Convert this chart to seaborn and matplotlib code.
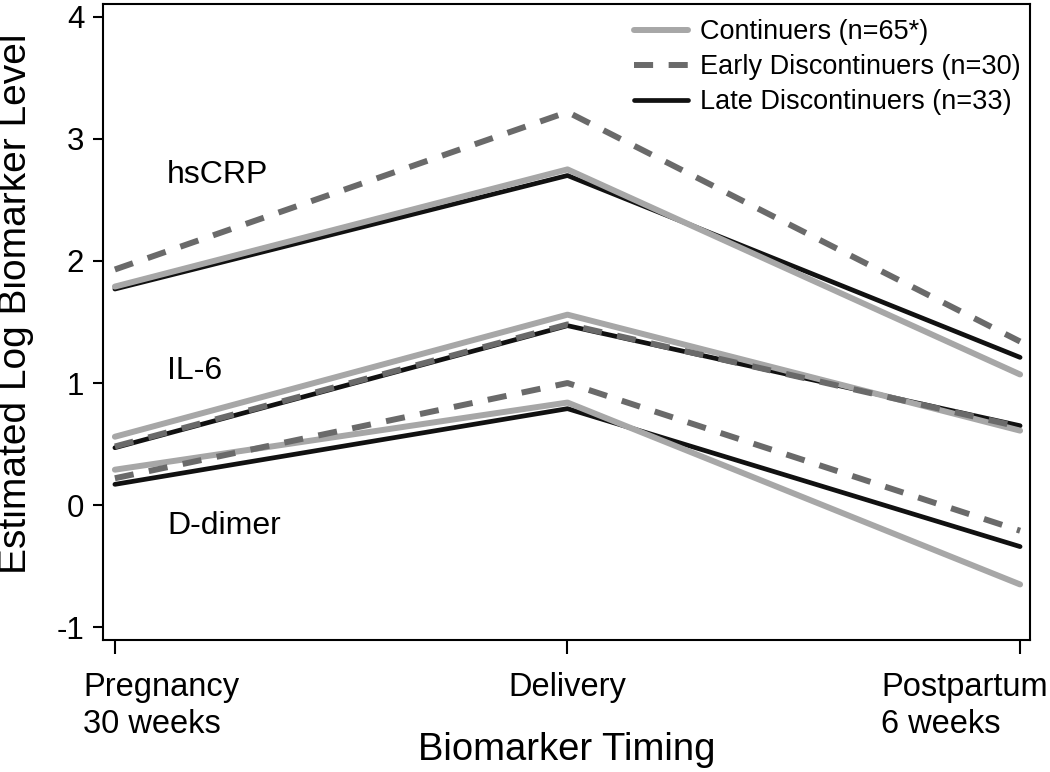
import pandas as pd
import seaborn as sns
import matplotlib.pyplot as plt
import matplotlib.transforms as mtrans
from matplotlib.lines import Line2D

# values (log biomarker level at each time point)
timing = [0, 1, 2]
timing_labels = ['Pregnancy\n30 weeks', 'Delivery', 'Postpartum\n6 weeks']
groups = ['Continuers (n=65*)', 'Early Discontinuers (n=30)', 'Late Discontinuers (n=33)']
biomarkers = ['hsCRP', 'IL-6', 'D-dimer']

continuers = {'hsCRP': [1.79, 2.75, 1.07],
              'IL-6': [0.56, 1.56, 0.61],
              'D-dimer': [0.29, 0.84, -0.65]}
early = {'hsCRP': [1.93, 3.22, 1.34],
         'IL-6': [0.48, 1.48, 0.64],
         'D-dimer': [0.22, 1.00, -0.21]}
late = {'hsCRP': [1.77, 2.70, 1.21],
        'IL-6': [0.47, 1.47, 0.65],
        'D-dimer': [0.17, 0.79, -0.34]}

# label positions for the biomarker names
label_x = 0.115
label_y = {'hsCRP': 2.64, 'IL-6': 1.03, 'D-dimer': -0.24}

rows = []
for g, vals in zip(groups, [continuers, early, late]):
    for b in biomarkers:
        for t, v in zip(timing, vals[b]):
            rows.append({'timing': t, 'level': v, 'group': g, 'biomarker': b})
df = pd.DataFrame(rows)

sns.set_style('ticks')
plt.rcParams['font.family'] = ['Liberation Sans', 'DejaVu Sans']
plt.rcParams['axes.unicode_minus'] = False
plt.rcParams['text.color'] = 'black'
plt.rcParams['axes.labelcolor'] = 'black'
plt.rcParams['xtick.color'] = 'black'
plt.rcParams['ytick.color'] = 'black'

colors = {groups[0]: '#a7a7a7', groups[1]: '#6a6a6a', groups[2]: '#111111'}
widths = {groups[0]: 4.3, groups[1]: 4.3, groups[2]: 3.4}
dashes = {groups[0]: '', groups[1]: (3.2, 2.6), groups[2]: ''}

fig = plt.figure(figsize=(10.5, 7.72), dpi=100)
ax = fig.add_axes([0.098, 0.171, 0.883, 0.824])

# black first, then light gray, dashed on top
order = [groups[2], groups[0], groups[1]]
sns.lineplot(data=df, x='timing', y='level', hue='group', style='group', size='group',
             units='biomarker', estimator=None, hue_order=order, style_order=order,
             size_order=order, palette=colors, dashes=dashes, sizes=widths,
             legend=False, ax=ax)

for b in biomarkers:
    ax.text(label_x, label_y[b], b, fontsize=23, va='baseline', ha='left', color='black')

ax.set_xlim(-0.0265, 2.022)
ax.set_ylim(-1.105, 4.106)
ax.set_yticks([-1, 0, 1, 2, 3, 4])
ax.set_xticks(timing)
ax.set_xticklabels(timing_labels, linespacing=1.25)

for s in ax.spines.values():
    s.set_linewidth(1.5)
    s.set_color('black')
ax.tick_params(axis='x', length=10, width=1.5, labelsize=23.5, pad=13)
ax.tick_params(axis='y', length=7.5, width=1.5, labelsize=22.5, pad=6)

for lab, dx, ha in zip(ax.get_xticklabels(), [-32, 0, 28], ['left', 'center', 'right']):
    lab.set_ha(ha)
    lab.set_multialignment('left')
    lab.set_transform(lab.get_transform() + mtrans.ScaledTranslation(dx / 100, 0, fig.dpi_scale_trans))

ax.set_xlabel('Biomarker Timing', fontsize=27.5)
ax.xaxis.set_label_coords(0.5, -0.145)
ax.set_ylabel('Estimated Log Biomarker Level', fontsize=28)
ax.yaxis.set_label_coords(-0.074, 0.528)

handles = [Line2D([], [], color=colors[g], lw=widths[g]) for g in groups]
handles[1].set_dashes((3.2, 2.6))
ax.legend(handles, groups, loc='upper right', bbox_to_anchor=(0.99, 0.976),
          frameon=False, fontsize=19.5, handlelength=2.0, handletextpad=0.45,
          labelspacing=0.33, borderpad=0, borderaxespad=0, labelcolor='black')

fig.savefig('out.png', dpi=100)
